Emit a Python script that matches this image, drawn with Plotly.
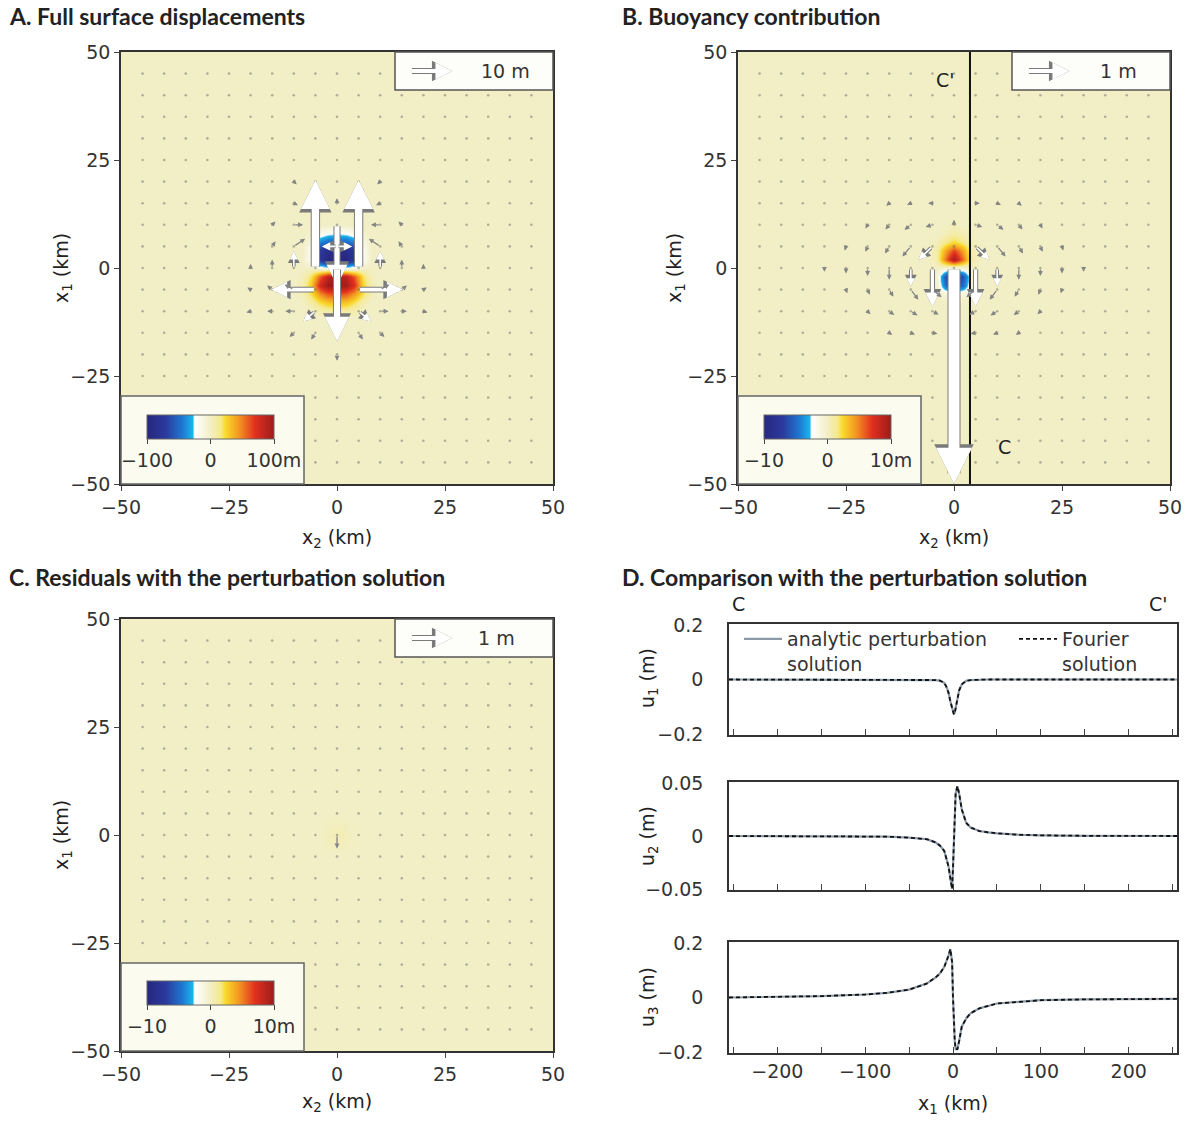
import math
import plotly.graph_objects as go

W, H = 1199, 1121
def fx(px): return px / W
def fy(py): return 1 - py / H

FONT = "DejaVu Sans"
TXT = "#333333"
CREAM = "#f2efc6"

# ---------------- data ----------------
grid_km = [-45, -40, -35, -30, -25, -20, -15, -10, -5, 0, 5, 10, 15, 20, 25, 30, 35, 40, 45]

# Panel A heatmap (vertical displacement, m), rows listed top (x1=10) to bottom (x1=-10)
hmA_x2 = [-8, -6, -4, -2, 0, 2, 4, 6, 8]
hmA_x1_top_down = [10, 8, 6, 4, 2, 0, -2, -4, -6, -8, -10]
hmA_z_top_down = [
    [0, 0, 0, 0, 0, 0, 0, 0, 0],
    [0, -3, -15, -22, -24, -22, -15, -3, 0],
    [0, -12, -42, -52, -55, -52, -42, -12, 0],
    [0, -20, -75, -88, -92, -88, -75, -20, 0],
    [0, -20, -78, -97, -100, -97, -78, -20, 0],
    [0, 0, -8, -12, -12, -12, -8, 0, 0],
    [2, 20, 60, 88, 92, 88, 60, 20, 2],
    [5, 30, 78, 100, 100, 96, 72, 25, 5],
    [3, 22, 48, 62, 64, 60, 45, 20, 3],
    [0, 8, 22, 30, 32, 30, 20, 6, 0],
    [0, 0, 5, 8, 8, 8, 5, 0, 0],
]

# Panel B heatmap (m)
hmB_x2 = [-6, -4, -2, 0, 2, 4, 6]
hmB_x1_top_down = [10, 8, 6, 4, 2, 0, -2, -4, -6, -8]
hmB_z_top_down = [
    [0, 0, 0, 0.3, 0, 0, 0],
    [0, 0, 0.4, 0.8, 0.4, 0, 0],
    [0, 0.3, 1.5, 2.5, 1.5, 0.3, 0],
    [0, 0.8, 4, 6.5, 4, 0.8, 0],
    [0, 0.8, 5.5, 9.5, 5.5, 0.8, 0],
    [0, 0, -1, -2, -1, 0, 0],
    [0, -0.8, -6, -7, -6, -0.8, 0],
    [0, -0.5, -5, -6, -5, -0.5, 0],
    [0, 0, -1, -1.5, -1, 0, 0],
    [0, 0, 0, 0, 0, 0, 0],
]

# Panel C heatmap (m)
hmC_x2 = [-4, -2, 0, 2, 4]
hmC_x1_top_down = [4, 2, 0, -2, -4]
hmC_z_top_down = [
    [0, 0, 0, 0, 0],
    [0, 0.2, 0.3, 0.2, 0],
    [0, 0.3, 0.5, 0.3, 0],
    [0, 0.2, 0.3, 0.2, 0],
    [0, 0, 0, 0, 0],
]

# Horizontal displacement vectors: (x2 km, x1 km, u2 m, u1 m)
arrows_A = [
    (-5, 0, 0, 21), (5, 0, 0, 21),
    (0, 10, 0, -14.5), (0, 0, 0, -17.5),
    (-5, -5, -10.5, 0), (5, -5, 10.5, 0),
    (0, 5, -3.6, 0), (0, 5, 3.6, 0),
    (-10, 0, 0, 4), (10, 0, 0, 4),
    (-15, 0, 0, 2), (15, 0, 0, 2),
    (-20, 0, 0, 1), (20, 0, 0, 1),
    (-10, 5, 2.7, 1.8), (10, 5, -2.7, 1.8),
    (-10, 10, 2.2, 0), (10, 10, -2.2, 0),
    (-10, -5, -2.2, 1.2), (10, -5, 2.2, 1.2),
    (-15, -5, -1.2, 1.0), (15, -5, 1.2, 1.0),
    (-5, -10, -2.9, -2.4), (5, -10, 2.9, -2.4),
    (-10, -10, -2.0, 0), (10, -10, 2.0, 0),
    (-15, -10, -1.2, 0), (15, -10, 1.2, 0),
    (-5, -15, -1.0, -1.6), (5, -15, 1.0, -1.6),
    (-10, -15, -1.0, -1.0), (10, -15, 1.0, -1.0),
    (0, -20, 0, -1.5),
    (-15, 5, 0.8, 1.2), (15, 5, -0.8, 1.2),
    (-15, 10, 0.8, 0.8), (15, 10, -0.8, 0.8),
    (-10, 15, 1.0, -0.5), (10, 15, -1.0, -0.5),
    (-10, 20, 0.7, -0.7), (10, 20, -0.7, -0.7),
    (0, 15, 0, 1.2),
    (-20, -5, -0.8, 0.5), (20, -5, 0.8, 0.5),
    (-20, -10, -1.0, -0.3), (20, -10, 1.0, -0.3),
]

arrows_B = [
    (0, 0, 0, -5.15),
    (-5, 0, 0, -0.92), (5, 0, 0, -0.92),
    (-10, 0, 0, -0.44), (10, 0, 0, -0.44),
    (-15, 0, 0, -0.28), (15, 0, 0, -0.28),
    (-20, 0, 0, -0.19), (20, 0, 0, -0.19),
    (-25, 0, 0, -0.13), (25, 0, 0, -0.13),
    (-30, 0, 0, -0.09), (30, 0, 0, -0.09),
    (-5, 5, -0.33, -0.32), (5, 5, 0.33, -0.32),
    (-10, 5, -0.20, -0.24), (10, 5, 0.20, -0.24),
    (-15, 5, -0.10, -0.17), (15, 5, 0.10, -0.17),
    (-20, 5, -0.05, -0.13), (20, 5, 0.05, -0.13),
    (-25, 5, -0.03, -0.10), (25, 5, 0.03, -0.10),
    (0, 10, 0, 0.12),
    (-5, 10, -0.16, -0.05), (5, 10, 0.16, -0.05),
    (-10, 10, -0.15, -0.12), (10, 10, 0.15, -0.12),
    (-15, 10, -0.09, -0.11), (15, 10, 0.09, -0.11),
    (-20, 10, -0.05, -0.09), (20, 10, 0.05, -0.09),
    (-5, 15, -0.10, 0), (5, 15, 0.10, 0),
    (-10, 15, -0.09, -0.04), (10, 15, 0.09, -0.04),
    (-15, 15, -0.07, -0.06), (15, 15, 0.07, -0.06),
    (-5, -5, 0.22, -0.18), (5, -5, -0.22, -0.18),
    (-10, -5, 0.18, -0.24), (10, -5, -0.18, -0.24),
    (-15, -5, 0.10, -0.17), (15, -5, -0.10, -0.17),
    (-20, -5, 0.05, -0.12), (20, -5, -0.05, -0.12),
    (-25, -5, 0.03, -0.09), (25, -5, -0.03, -0.09),
    (-5, -10, 0.15, -0.08), (5, -10, -0.15, -0.08),
    (-10, -10, 0.16, -0.10), (10, -10, -0.16, -0.10),
    (-15, -10, 0.12, -0.09), (15, -10, -0.12, -0.09),
    (-20, -10, 0.07, -0.07), (20, -10, -0.07, -0.07),
    (-5, -15, 0.12, -0.02), (5, -15, -0.12, -0.02),
    (-10, -15, 0.10, -0.04), (10, -15, -0.10, -0.04),
    (-15, -15, 0.07, -0.05), (15, -15, -0.07, -0.05),
]

arrows_C = [(0, 0, 0, -0.32)]

# arrow scale: km of map per m of displacement
scale_A = 0.97
scale_BC = 9.7
ref_arrow_A = 10   # m
ref_arrow_BC = 1   # m

profile_x2 = 3.7  # km, profile C-C'

# Panel D profiles along x1 (km)
prof_x1 = [-255, -200, -150, -100, -75, -50, -40, -30, -20, -15, -10, -7, -5, -3, -1, 0,
           1, 2, 3, 5, 7, 10, 15, 20, 30, 40, 50, 75, 100, 150, 200, 255]
analytic_u1 = [0, 0, 0, 0, 0, 0, 0, 0, -0.002, -0.004, -0.012, -0.03, -0.05, -0.08, -0.11, -0.122,
               -0.128, -0.122, -0.105, -0.067, -0.04, -0.018, -0.005, -0.002, 0, 0, 0, 0, 0, 0, 0, 0]
analytic_u2 = [0, 0, 0, -0.0003, -0.0006, -0.0016, -0.0022, -0.003, -0.006, -0.009, -0.014, -0.022,
               -0.029, -0.04, -0.05, -0.03, 0.0, 0.025, 0.04, 0.047, 0.04, 0.025, 0.0125, 0.008,
               0.0047, 0.0035, 0.0025, 0.0012, 0.0006, 0.0002, 0, 0]
analytic_u3 = [0.0, 0.003, 0.005, 0.011, 0.017, 0.029, 0.039, 0.051, 0.073, 0.088, 0.112, 0.135,
               0.155, 0.178, 0.13, 0.0, -0.1, -0.16, -0.19, -0.19, -0.16, -0.107, -0.077, -0.058,
               -0.04, -0.03, -0.022, -0.016, -0.01, -0.007, -0.005, -0.005]
fourier_u1 = list(analytic_u1)
fourier_u2 = list(analytic_u2)
fourier_u3 = list(analytic_u3)

# ---------------- figure ----------------
CS = [[0.0, '#27277f'], [0.15, '#2b3a9e'], [0.28, '#1f78d2'], [0.36, '#19b5ec'],
      [0.375, '#ffffff'], [0.5, CREAM], [0.58, '#f6e98a'], [0.62, '#fad92a'],
      [0.72, '#f39a22'], [0.85, '#e2301f'], [1.0, '#9c1b1b']]

fig = go.Figure()

map_panels = [
    ('A', 'x', 'y', 121, 52, hmA_x2, hmA_x1_top_down, hmA_z_top_down, 'coloraxis'),
    ('B', 'x2', 'y2', 738, 52, hmB_x2, hmB_x1_top_down, hmB_z_top_down, 'coloraxis2'),
    ('C', 'x3', 'y3', 121, 619, hmC_x2, hmC_x1_top_down, hmC_z_top_down, 'coloraxis3'),
]
PW = 432  # panel size px

for name, xa, ya, L, T, hx, hy, hz, cax in map_panels:
    fig.add_trace(go.Heatmap(x=hx, y=hy[::-1], z=hz[::-1], coloraxis=cax, zsmooth='best',
                             xaxis=xa, yaxis=ya, hoverinfo='skip'))
    gx = [a for b in grid_km for a in grid_km]
    gy = [b for b in grid_km for a in grid_km]
    fig.add_trace(go.Scatter(x=gx, y=gy, mode='markers', xaxis=xa, yaxis=ya,
                             marker=dict(size=2.6, color='rgba(110,110,100,0.5)'),
                             showlegend=False, hoverinfo='skip'))

d_axes = [('x4', 'y4', analytic_u1, fourier_u1), ('x5', 'y5', analytic_u2, fourier_u2),
          ('x6', 'y6', analytic_u3, fourier_u3)]
for i, (xa, ya, an, fo) in enumerate(d_axes):
    fig.add_trace(go.Scatter(x=prof_x1, y=an, mode='lines', xaxis=xa, yaxis=ya,
                             line=dict(color='#8c9aa8', width=2.2),
                             name='analytic perturbation<br>solution', showlegend=(i == 0),
                             hoverinfo='skip'))
    fig.add_trace(go.Scatter(x=prof_x1, y=fo, mode='lines', xaxis=xa, yaxis=ya,
                             line=dict(color='#111111', width=1.8, dash='4px,3px'),
                             name='Fourier<br>solution', showlegend=(i == 0), hoverinfo='skip'))

annotations = []
shapes = []

def add_arrow(xa, ya, x0, y0, x1, y1, px_per_km=4.32, force_white=False, ref=False):
    Lpx = math.hypot((x1 - x0) * px_per_km, (y1 - y0) * px_per_km)
    if Lpx < 3:
        return
    if Lpx >= 14 or force_white:
        w = max(1.6, min(11.0, Lpx / 12.0))
        if ref:
            w = 4.0
        head = min(36.0, 3.6 * w + 2.5)
        annotations.append(dict(xref=xa, yref=ya, axref=xa, ayref=ya, x=x1, y=y1, ax=x0, ay=y0,
                                text='', showarrow=True, arrowhead=2, arrowcolor='#7a7a7a',
                                arrowwidth=w + 2, arrowsize=(head + 3.5) / (5 * (w + 2)),
                                standoff=0))
        annotations.append(dict(xref=xa, yref=ya, axref=xa, ayref=ya, x=x1, y=y1, ax=x0, ay=y0,
                                text='', showarrow=True, arrowhead=2, arrowcolor='#ffffff',
                                arrowwidth=w, arrowsize=head / (5 * w), standoff=0))
    else:
        annotations.append(dict(xref=xa, yref=ya, axref=xa, ayref=ya, x=x1, y=y1, ax=x0, ay=y0,
                                text='', showarrow=True, arrowhead=2, arrowcolor='#858585',
                                arrowwidth=1.3, arrowsize=0.75, standoff=0))

for arr, xa, ya, s in [(arrows_A, 'x', 'y', scale_A), (arrows_B, 'x2', 'y2', scale_BC),
                       (arrows_C, 'x3', 'y3', scale_BC)]:
    for (x2, x1, u2, u1) in arr:
        add_arrow(xa, ya, x2, x1, x2 + u2 * s, x1 + u1 * s)

for name, xa, ya, L, T, *_ in map_panels:
    xd, yd = xa + ' domain', ya + ' domain'
    shapes.append(dict(type='rect', xref=xd, yref=yd, x0=0, x1=1, y0=0, y1=1,
                       fillcolor=CREAM, line_width=0, layer='below'))
    shapes.append(dict(type='rect', xref=xd, yref=yd, x0=0, x1=183 / PW, y0=0, y1=88 / PW,
                       fillcolor='#fbfbef', line=dict(color='#666666', width=1.5), layer='above'))
    shapes.append(dict(type='rect', xref=xd, yref=yd, x0=1 - 158 / PW, x1=1, y0=1 - 38 / PW, y1=1,
                       fillcolor='#fdfdfa', line=dict(color='#555555', width=1.5), layer='above'))

shapes.append(dict(type='line', xref='x2', yref='y2', x0=profile_x2, x1=profile_x2, y0=-50, y1=50,
                   line=dict(color='#111111', width=2), layer='above'))

for xa, ya, s, refm, label, tx in [('x', 'y', scale_A, ref_arrow_A, '10 m', 39),
                                   ('x2', 'y2', scale_BC, ref_arrow_BC, '1 m', 38),
                                   ('x3', 'y3', scale_BC, ref_arrow_BC, '1 m', 37)]:
    add_arrow(xa, ya, 17.0, 45.6, 17.0 + refm * s, 45.6, force_white=True, ref=True)
    annotations.append(dict(xref=xa, yref=ya, x=tx, y=45.6, text=label, showarrow=False,
                            font=dict(family=FONT, size=19, color=TXT)))

def txt(px, py, text, size=19, bold=False, angle=0, xanchor='center', family=FONT):
    if bold:
        text = '<b>' + text + '</b>'
    annotations.append(dict(xref='paper', yref='paper', x=fx(px), y=fy(py), text=text,
                            showarrow=False, xanchor=xanchor, yanchor='middle', textangle=angle,
                            font=dict(family=family, size=size, color='#222222')))

TF = "Lato"
txt(7, 16, 'A. Full surface displacements', 23, True, xanchor='left', family=TF)
txt(620, 16, 'B. Buoyancy contribution', 23, True, xanchor='left', family=TF)
txt(7, 577, 'C. Residuals with the perturbation solution', 23, True, xanchor='left', family=TF)
txt(620, 577, 'D. Comparison with the perturbation solution', 23, True, xanchor='left', family=TF)

txt(337, 538, 'x<sub>2</sub> (km)')
txt(954, 538, 'x<sub>2</sub> (km)')
txt(337, 1102, 'x<sub>2</sub> (km)')
txt(62, 268, 'x<sub>1</sub> (km)', angle=-90)
txt(675, 268, 'x<sub>1</sub> (km)', angle=-90)
txt(62, 835, 'x<sub>1</sub> (km)', angle=-90)
txt(953, 1104, 'x<sub>1</sub> (km)')
txt(648, 678, 'u<sub>1</sub> (m)', angle=-90)
txt(648, 836, 'u<sub>2</sub> (m)', angle=-90)
txt(648, 997, 'u<sub>3</sub> (m)', angle=-90)
txt(738, 604, 'C')
txt(1158, 604, "C'")
txt(945, 80, "C'")
txt(1004, 447, 'C')

layout_axes = {}
tickfont = dict(family=FONT, size=19, color=TXT)
map_ax_common = dict(range=[-50, 50], tickvals=[-50, -25, 0, 25, 50], ticks='outside', ticklen=5,
                     tickwidth=1.2, tickcolor='#444', showline=True, mirror=True,
                     linecolor='#333333', linewidth=1.5, showgrid=False, zeroline=False,
                     tickfont=tickfont)
for name, xa, ya, L, T, *_ in map_panels:
    xk = 'xaxis' + xa[1:]
    yk = 'yaxis' + ya[1:]
    layout_axes[xk] = dict(domain=[fx(L), fx(L + PW)], anchor=ya, **map_ax_common)
    layout_axes[yk] = dict(domain=[fy(T + PW), fy(T)], anchor=xa, **map_ax_common)

d_boxes = [('x4', 'y4', 624, 735, 0.2, [-0.2, 0, 0.2], ['−0.2', '0', '0.2'], False),
           ('x5', 'y5', 782, 890, 0.05, [-0.05, 0, 0.05], ['−0.05', '0', '0.05'], False),
           ('x6', 'y6', 942, 1053, 0.2, [-0.2, 0, 0.2], ['−0.2', '0', '0.2'], True)]
xt = [-250, -200, -150, -100, -50, 0, 50, 100, 150, 200, 250]
xl = ['', '−200', '', '−100', '', '0', '', '100', '', '200', '']
for xa, ya, top, bot, lim, tv, tt, lab in d_boxes:
    layout_axes['xaxis' + xa[1:]] = dict(domain=[fx(729), fx(1177)], anchor=ya, range=[-255, 255],
                                         tickvals=xt, ticktext=xl if lab else [''] * len(xt),
                                         ticks='inside', ticklen=6, tickcolor='#444',
                                         showline=True, mirror=True, linecolor='#333333',
                                         linewidth=1.5, showgrid=False, zeroline=False,
                                         tickfont=tickfont)
    layout_axes['yaxis' + ya[1:]] = dict(domain=[fy(bot), fy(top)], anchor=xa,
                                         range=[-lim * 1.02, lim * 1.02], tickvals=tv, ticktext=tt,
                                         ticks='', showline=True, mirror=True,
                                         linecolor='#333333', linewidth=1.5, showgrid=False,
                                         zeroline=False, tickfont=tickfont, ticklabelstandoff=20)

def cbar(left, top, vals, texts):
    return dict(orientation='h', x=fx(left), xanchor='left', y=fy(top), yanchor='top',
                len=127, lenmode='pixels', thickness=24, xpad=0, ypad=0,
                outlinewidth=1, outlinecolor='#666666', tickvals=vals, ticktext=texts,
                ticks='outside', ticklen=5, tickcolor='#444', tickfont=tickfont)

fig.update_layout(
    width=W, height=H, margin=dict(l=0, r=0, t=0, b=0, autoexpand=False),
    paper_bgcolor='white', plot_bgcolor='white',
    coloraxis=dict(cmin=-100, cmax=100, colorscale=CS,
                   colorbar=cbar(147, 415, [-100, 0, 100], ['−100', '0', '100m'])),
    coloraxis2=dict(cmin=-10, cmax=10, colorscale=CS,
                    colorbar=cbar(764, 415, [-10, 0, 10], ['−10', '0', '10m'])),
    coloraxis3=dict(cmin=-10, cmax=10, colorscale=CS,
                    colorbar=cbar(147, 981, [-10, 0, 10], ['−10', '0', '10m'])),
    showlegend=True,
    legend=dict(orientation='h', x=fx(739), y=fy(620), xanchor='left', yanchor='top',
                valign='top', font=dict(family=FONT, size=19, color=TXT),
                bgcolor='rgba(0,0,0,0)', entrywidth=222, entrywidthmode='pixels',
                itemwidth=38, traceorder='normal'),
    annotations=annotations, shapes=shapes,
    **layout_axes,
)

fig.write_html("out.html")
